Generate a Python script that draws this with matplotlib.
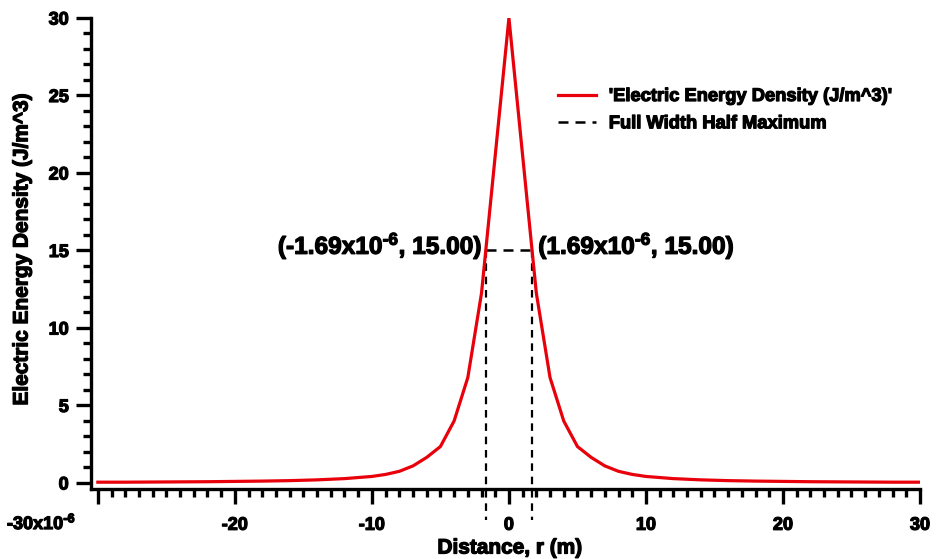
import matplotlib
matplotlib.use("Agg")
import matplotlib.pyplot as plt
import matplotlib.patheffects as pe
from matplotlib.ticker import MultipleLocator, FixedLocator

plt.rcParams["font.family"] = ["Liberation Sans", "DejaVu Sans"]
plt.rcParams["font.weight"] = "bold"
plt.rcParams["mathtext.fontset"] = "custom"
plt.rcParams["mathtext.rm"] = "Liberation Sans:bold"
plt.rcParams["mathtext.default"] = "rm"

# Radial distance (micrometres) and electric energy density (J/m^3)
r_um = [-30, -28, -26, -24, -22, -20, -18, -16, -14, -12, -10, -9, -8, -7, -6,
        -5, -4, -3, -2, 0, 2, 3, 4, 5, 6, 7, 8, 9, 10, 12, 14, 16, 18, 20, 22,
        24, 26, 28, 30]
energy_density = [0.05, 0.05, 0.06, 0.07, 0.08, 0.10, 0.12, 0.15, 0.20, 0.28,
                  0.42, 0.55, 0.75, 1.10, 1.65, 2.35, 4.00, 6.80, 12.25, 30.00,
                  12.25, 6.80, 4.00, 2.35, 1.65, 1.10, 0.75, 0.55, 0.42, 0.28,
                  0.20, 0.15, 0.12, 0.10, 0.08, 0.07, 0.06, 0.05, 0.05]

# Full width at half maximum
half_max = 15.00
fwhm_left = -1.69
fwhm_right = 1.69

x_ticks = [-30, -20, -10, 0, 10, 20, 30]
x_tick_labels = ["", "-20", "-10", "0", "10", "20", "30"]
y_ticks = [0, 5, 10, 15, 20, 25, 30]

heavy = [pe.withStroke(linewidth=0.9, foreground="black")]
HY = "\u2010"

fig = plt.figure(figsize=(9.38, 5.59), dpi=100)
ax = fig.add_axes([91 / 938, 1 - 489 / 559, (920 - 91) / 938, (489 - 18) / 559])

ax.plot(r_um, energy_density, color="#e8000b", lw=2.3, solid_joinstyle="miter",
        label="'Electric Energy Density (J/m^3)'", zorder=3)

ax.plot([fwhm_left, fwhm_right], [half_max, half_max], color="black", lw=1.8,
        dashes=(4.0, 2.8), label="Full Width Half Maximum", zorder=2)
for xv in (fwhm_left, fwhm_right):
    ax.plot([xv, xv], [half_max, -2.4], color="black", lw=1.6,
            dashes=(3.4, 2.6), clip_on=False, zorder=2)

ann_left = ax.text(fwhm_left - 0.3, half_max + 0.3,
                   "(-1.69x10$^{" + HY + "6}$, 15.00)",
                   ha="right", va="center", fontsize=17.6, fontweight="bold")
ann_right = ax.text(fwhm_right + 0.45, half_max + 0.3,
                    "(1.69x10$^{" + HY + "6}$, 15.00)",
                    ha="left", va="center", fontsize=17.6, fontweight="bold")

ax.set_xlim(-30.5, 30)
ax.set_ylim(-0.39, 30)

for side in ("top", "right"):
    ax.spines[side].set_visible(False)
for side in ("left", "bottom"):
    ax.spines[side].set_linewidth(2.4)

ax.xaxis.set_major_locator(FixedLocator(x_ticks))
ax.set_xticklabels(x_tick_labels)
ax.xaxis.set_minor_locator(MultipleLocator(1))
ax.yaxis.set_major_locator(FixedLocator(y_ticks))
ax.yaxis.set_minor_locator(MultipleLocator(1))

ax.tick_params(axis="both", which="major", direction="out", width=2.4,
               labelsize=13)
ax.tick_params(axis="x", which="major", length=11, pad=9)
ax.tick_params(axis="y", which="major", length=11, pad=5)
ax.tick_params(axis="both", which="minor", direction="out", width=2.4, length=6)
for lab in ax.get_xticklabels() + ax.get_yticklabels():
    lab.set_fontweight("bold")
    lab.set_path_effects(heavy)

exp_label = fig.text(76 / 938, 1 - 523 / 559, "-30x10$^{" + HY + "6}$",
                     ha="right", va="center", fontsize=13, fontweight="bold")

ax.set_xlabel("Distance, r (m)", fontsize=15, fontweight="bold")
ax.xaxis.label.set_va("center")
ax.xaxis.set_label_coords((510 - 91) / 829, (489 - 548) / 471)
ax.set_ylabel("Electric Energy Density (J/m^3)", fontsize=15,
              fontweight="bold")
ax.yaxis.label.set_va("center")
ax.yaxis.set_label_coords((22 - 91) / 829, (489 - 249) / 471)

leg = ax.legend(loc="upper left", bbox_to_anchor=(558 / 938, 1 - 88 / 559),
                bbox_transform=fig.transFigure, frameon=False,
                borderpad=0, borderaxespad=0,
                handlelength=2.05, handletextpad=0.72, labelspacing=0.56,
                prop={"weight": "bold", "size": 13.2})

for t in [ann_left, ann_right, exp_label, ax.xaxis.label, ax.yaxis.label] + \
        leg.get_texts():
    t.set_path_effects(heavy)

fig.savefig("out.png", dpi=100, facecolor="white")
